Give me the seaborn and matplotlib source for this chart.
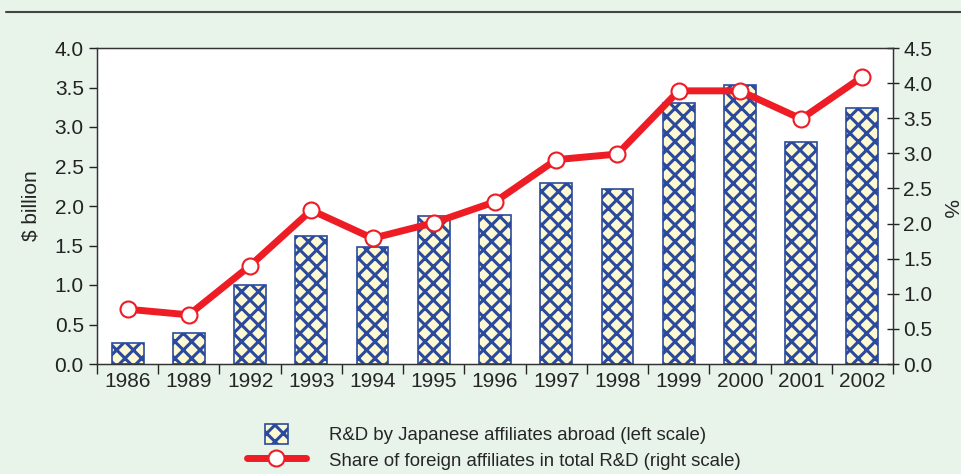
import numpy as np
import matplotlib
matplotlib.use("Agg")
import matplotlib.pyplot as plt
import seaborn as sns
from matplotlib.lines import Line2D
from matplotlib.patches import Patch, Rectangle
from matplotlib.legend_handler import HandlerPatch
from matplotlib.ticker import FixedLocator

years = ["1986", "1989", "1992", "1993", "1994", "1995", "1996",
         "1997", "1998", "1999", "2000", "2001", "2002"]
rd_abroad = [0.26, 0.39, 1.00, 1.62, 1.48, 1.87, 1.89,
             2.29, 2.22, 3.30, 3.53, 2.81, 3.24]
foreign_share = [0.78, 0.70, 1.40, 2.19, 1.79, 2.01, 2.31,
                 2.91, 2.99, 3.89, 3.89, 3.49, 4.09]

bg = "#E8F3EA"
red = "#EE1C25"
blue = "#2B4A9E"
fill = "#FDF9D2"

sns.set_style("ticks")
plt.rcParams["font.family"] = ["Liberation Sans", "DejaVu Sans"]
plt.rcParams["hatch.linewidth"] = 2.2


def small_square(legend, orig_handle, xdescent, ydescent, width, height, fontsize):
    # narrow swatch centred in the handle box, like the original key
    w = height * 1.15
    return Rectangle((-xdescent + (width - w) / 2, -ydescent), w, height)


fig = plt.figure(figsize=(9.62, 4.74), dpi=100, facecolor=bg)
ax = fig.add_axes([97 / 962, 1 - 364 / 474, 796 / 962, 316 / 474])
ax.set_facecolor("white")

sns.barplot(x=years, y=rd_abroad, ax=ax, color=fill, saturation=1,
            width=0.52, edgecolor=blue, linewidth=1.2, hatch="xx", zorder=2)

ax.set_ylim(0, 4.0)
ax.set_yticks(np.arange(0, 4.01, 0.5))
ax.set_yticklabels([f"{v:.1f}" for v in np.arange(0, 4.01, 0.5)], fontsize=15)
ax.set_xlim(-0.5, len(years) - 0.5)
ax.tick_params(axis="x", which="major", length=0, labelsize=15, pad=6)
ax.xaxis.set_minor_locator(FixedLocator(np.arange(-0.5, len(years), 1.0)))
ax.tick_params(axis="x", which="minor", length=7, width=1, direction="out")
ax.tick_params(axis="y", length=6, width=1, direction="out", colors="#222222")
ax.set_ylabel("$ billion", fontsize=15, labelpad=10)
ax.set_xlabel("")
for s in ax.spines.values():
    s.set_visible(True)
    s.set_color("#333333")
    s.set_linewidth(1.0)

ax2 = ax.twinx()
sns.lineplot(x=np.arange(len(years)), y=foreign_share, ax=ax2, color=red,
             linewidth=5, marker="o", markersize=11.5, markerfacecolor="white",
             markeredgecolor=red, markeredgewidth=1.5, zorder=5)
ax2.set_ylim(0, 4.5)
ax2.set_yticks(np.arange(0, 4.51, 0.5))
ax2.set_yticklabels([f"{v:.1f}" for v in np.arange(0, 4.51, 0.5)], fontsize=15)
ax2.tick_params(axis="y", length=8, width=1, direction="inout", colors="#222222")
ax2.set_ylabel("")
ax2.set_xlim(-0.5, len(years) - 0.5)
for s in ax2.spines.values():
    s.set_color("#333333")

fig.text(0.986, 0.56, "%", rotation=-90, fontsize=15, ha="center", va="center")

# top rule
fig.add_artist(Line2D([6 / 962, 1.0], [1 - 12 / 474, 1 - 12 / 474],
                      color="#444444", linewidth=1.5))

handles = [
    Patch(facecolor=fill, edgecolor=blue, hatch="xx", linewidth=1.2),
    Line2D([0], [0], color=red, linewidth=5, marker="o", markersize=11.5,
           markerfacecolor="white", markeredgecolor=red, markeredgewidth=1.5),
]
labels = ["R&D by Japanese affiliates abroad (left scale)",
          "Share of foreign affiliates in total R&D (right scale)"]
fig.legend(handles, labels, loc="center", bbox_to_anchor=(0.513, 1 - 447 / 474),
           ncol=1, frameon=False, fontsize=13.4, handlelength=3.2,
           handleheight=1.3, handletextpad=1.2, labelspacing=0.3,
           handler_map={Patch: HandlerPatch(patch_func=small_square)})

fig.savefig("out.png", dpi=100, facecolor=bg)
